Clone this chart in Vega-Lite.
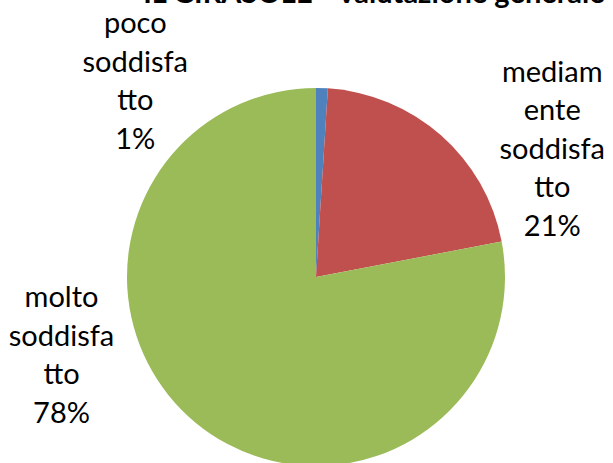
{
  "$schema": "https://vega.github.io/schema/vega-lite/v6.json",
  "autosize": "none",
  "width": 594,
  "height": 372,
  "padding": {"left": 19, "top": 91, "right": 0, "bottom": 0},
  "background": "white",
  "config": {"view": {"stroke": null}},
  "title": {
    "text": "IL GIRASOLE - Valutazione generale",
    "font": "Lato",
    "fontSize": 29,
    "fontWeight": "bold",
    "color": "black",
    "anchor": "middle",
    "frame": "group",
    "baseline": "alphabetic",
    "offset": -22,
    "dx": 58
  },
  "data": {
    "values": [
      {"order": 1, "category": "poco soddisfatto", "value": 1, "label": "poco\nsoddisfa\ntto\n1%"},
      {"order": 2, "category": "mediamente soddisfatto", "value": 21, "label": "mediam\nente\nsoddisfa\ntto\n21%"},
      {"order": 3, "category": "molto soddisfatto", "value": 78, "label": "molto\nsoddisfa\ntto\n78%"}
    ]
  },
  "encoding": {
    "theta": {"field": "value", "type": "quantitative", "stack": true},
    "order": {"field": "order", "type": "quantitative"}
  },
  "layer": [
    {
      "mark": {"type": "arc", "outerRadius": 189},
      "encoding": {
        "color": {
          "field": "category",
          "type": "nominal",
          "scale": {
            "domain": ["poco soddisfatto", "mediamente soddisfatto", "molto soddisfatto"],
            "range": ["#4F81BD", "#C0504D", "#9BBB59"]
          },
          "legend": null
        }
      }
    },
    {
      "mark": {
        "type": "text",
        "radius": 200,
        "font": "Lato",
        "fontSize": 29,
        "lineHeight": 38.5,
        "lineBreak": "\n",
        "align": "center",
        "baseline": "middle",
        "color": "black",
        "dx": {"expr": "datum.order === 1 ? -187 : datum.order === 2 ? 104 : -127"},
        "dy": {"expr": "datum.order === 1 ? -53 : datum.order === 2 ? -54 : -133"}
      },
      "encoding": {
        "text": {"field": "label", "type": "nominal"}
      }
    }
  ]
}
